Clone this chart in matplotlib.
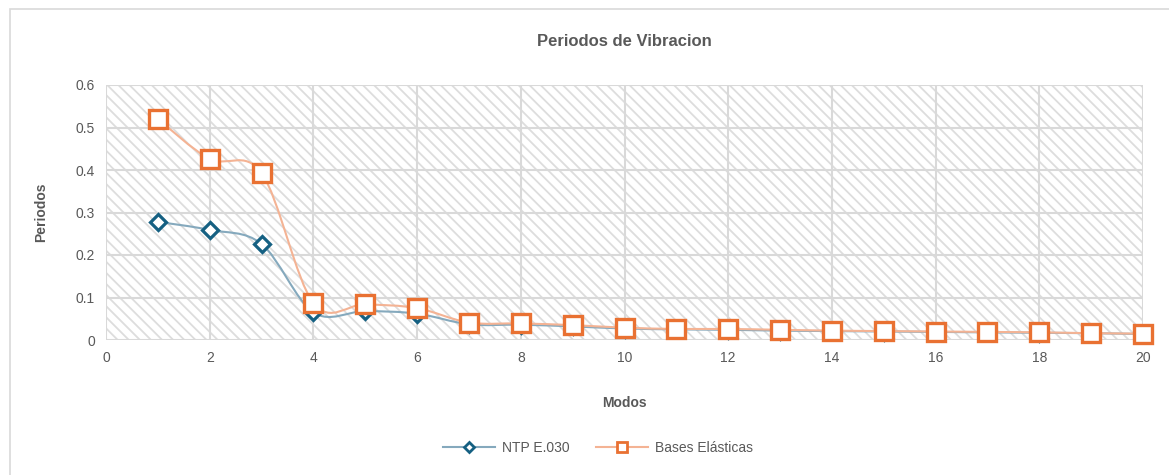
import matplotlib
matplotlib.use('Agg')
import matplotlib.pyplot as plt
import numpy as np
from matplotlib.path import Path
from matplotlib.patches import PathPatch, Rectangle
from matplotlib.ticker import FuncFormatter

modos = list(range(1, 21))
ntp_e030 = [0.278, 0.259, 0.226, 0.065, 0.068, 0.062, 0.037, 0.036, 0.032, 0.027,
            0.025, 0.024, 0.022, 0.021, 0.020, 0.019, 0.018, 0.017, 0.016, 0.014]
bases_elasticas = [0.520, 0.426, 0.393, 0.087, 0.084, 0.075, 0.041, 0.039, 0.035, 0.029,
                   0.026, 0.026, 0.024, 0.022, 0.021, 0.020, 0.019, 0.018, 0.016, 0.015]

BLUE = '#156082'
ORANGE = '#E97132'
BLUE_LINE = '#85a9bd'
ORANGE_LINE = '#f4b394'
TEXT = '#595959'


def smooth_path(xs, ys):
    # Excel-style smoothed line: Catmull-Rom segments as cubic Beziers
    xs = np.asarray(xs, float)
    ys = np.asarray(ys, float)
    pts = np.column_stack([xs, ys])
    verts = [pts[0]]
    codes = [Path.MOVETO]
    n = len(pts)
    for i in range(n - 1):
        p0 = pts[i - 1] if i > 0 else pts[i]
        p1 = pts[i]
        p2 = pts[i + 1]
        p3 = pts[i + 2] if i + 2 < n else pts[i + 1]
        c1 = p1 + (p2 - p0) / 6.0
        c2 = p2 - (p3 - p1) / 6.0
        verts += [c1, c2, p2]
        codes += [Path.CURVE4] * 3
    return Path(verts, codes)


plt.rcParams['font.family'] = ['Liberation Sans', 'DejaVu Sans']
plt.rcParams['hatch.linewidth'] = 1.3
plt.rcParams['hatch.color'] = '#dddddd'

fig = plt.figure(figsize=(11.69, 4.75), dpi=100)
ax = fig.add_axes([106 / 1169, 1 - 340 / 475, (1143 - 106) / 1169, (340 - 85) / 475])

# outer chart border
fig.patches.append(Rectangle((10 / 1169, -0.05), 1.2, 1 - 9 / 475 + 0.05,
                             transform=fig.transFigure, fill=False,
                             edgecolor='#d9d9d9', linewidth=1.2))

ax.set_facecolor('white')
ax.add_patch(Rectangle((0, 0), 1, 1, transform=ax.transAxes, facecolor='white',
                       edgecolor='#dddddd', hatch='\\\\\\', linewidth=0, zorder=0))

for series, col in [(ntp_e030, BLUE_LINE), (bases_elasticas, ORANGE_LINE)]:
    ax.add_patch(PathPatch(smooth_path(modos, series), facecolor='none',
                           edgecolor=col, linewidth=1.5, zorder=3))

ax.plot(modos, ntp_e030, linestyle='none', marker='D', markersize=8.5,
        markerfacecolor='white', markeredgecolor=BLUE, markeredgewidth=2.3,
        zorder=4, clip_on=False)
ax.plot(modos, bases_elasticas, linestyle='none', marker='s', markersize=12.5,
        markerfacecolor='white', markeredgecolor=ORANGE, markeredgewidth=2.4,
        zorder=5, clip_on=False)

# legend proxies
ax.plot([], [], color=BLUE_LINE, linewidth=1.5, marker='D', markersize=5,
        markerfacecolor='white', markeredgecolor=BLUE, markeredgewidth=2, label='NTP E.030')
ax.plot([], [], color=ORANGE_LINE, linewidth=1.5, marker='s', markersize=7,
        markerfacecolor='white', markeredgecolor=ORANGE, markeredgewidth=2, label='Bases Elásticas')

ax.set_xlim(0, 20)
ax.set_ylim(0, 0.6)
ax.set_xticks(range(0, 21, 2))
ax.set_yticks(np.arange(0, 0.61, 0.1))
ax.yaxis.set_major_formatter(FuncFormatter(lambda v, p: f'{v:g}'))
ax.grid(True, color='#d9d9d9', linewidth=1.5, zorder=1)
ax.set_axisbelow(True)
for s in ax.spines.values():
    s.set_visible(False)
ax.tick_params(length=0, colors=TEXT, labelsize=10, pad=8)

ax.set_xlabel('Modos', color=TEXT, fontsize=10, fontweight='bold', labelpad=22)
ax.set_ylabel('Periodos', color=TEXT, fontsize=10, fontweight='bold', labelpad=20)
fig.text(0.5 * (106 + 1143) / 1169, 1 - 42 / 475, 'Periodos de Vibracion',
         ha='center', va='center', color=TEXT, fontsize=12, fontweight='bold')

leg = fig.legend(loc='center', bbox_to_anchor=(598 / 1169, 1 - 448 / 475), ncol=2,
                 frameon=False, fontsize=10, handlelength=3.75, handletextpad=0.5,
                 columnspacing=1.95)
for t in leg.get_texts():
    t.set_color(TEXT)

fig.savefig('out.png', dpi=100, facecolor='white')
